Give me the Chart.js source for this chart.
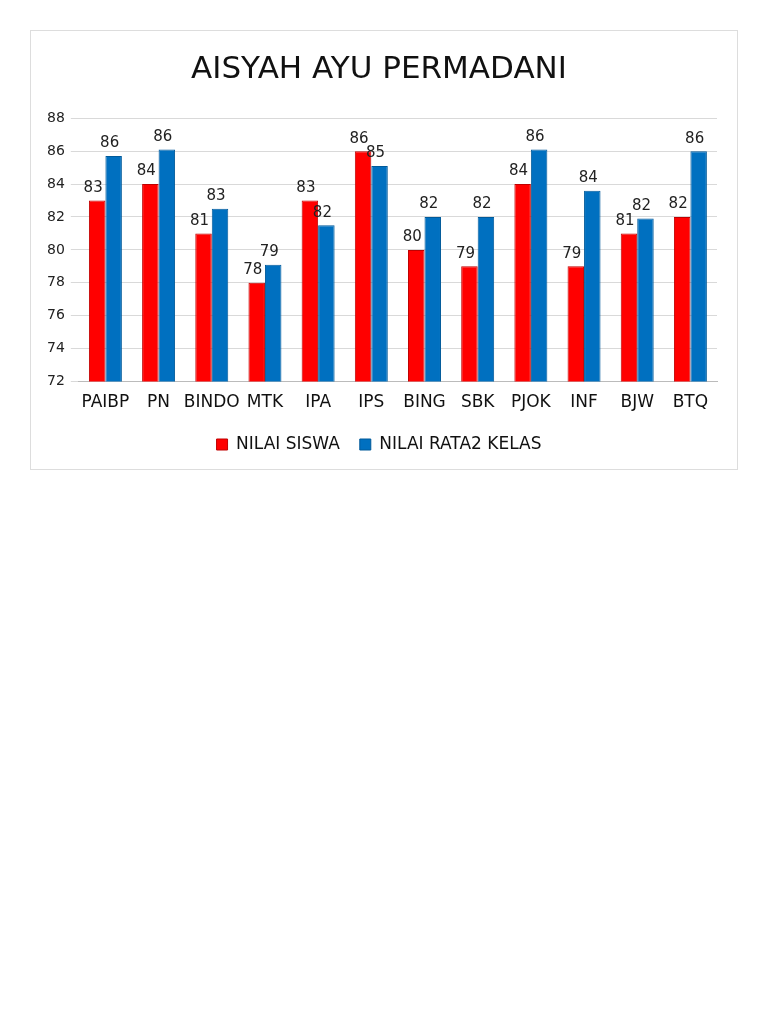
<!DOCTYPE html>
<html><head><meta charset="utf-8">
<script src="https://cdn.jsdelivr.net/npm/chart.js@4/dist/chart.umd.min.js"></script>
<style>
body{margin:0;background:#fff;font-family:"DejaVu Sans",sans-serif;}
#box{position:absolute;left:30px;top:30px;width:708px;height:440px;border:1px solid #ddd;box-sizing:border-box;}
</style></head><body>
<div id="box"><canvas id="c"></canvas></div>
<script>
const categories=["PAIBP","PN","BINDO","MTK","IPA","IPS","BING","SBK","PJOK","INF","BJW","BTQ"];
const nilaiSiswa=[83,84,81,78,83,86,80,79,84,79,81,82];
const rataKelas=[85.7,86.1,82.5,79.1,81.5,85.1,82,82,86.1,83.6,81.9,86];
const yTicks=[72,74,76,78,80,82,84,86,88];

const labelPlugin={id:'lbl',afterDatasetsDraw(chart){
  const ctx=chart.ctx;ctx.save();ctx.font='15px "DejaVu Sans"';ctx.fillStyle='#222';ctx.textAlign='center';ctx.textBaseline='bottom';
  chart.data.datasets.forEach((ds,i)=>{chart.getDatasetMeta(i).data.forEach((b,j)=>{
    ctx.fillText(Math.round(ds.data[j]),b.x-(i===0?4:4),b.y-5);});});
  ctx.restore();}};

new Chart(document.getElementById('c'),{type:'bar',
data:{labels:categories,datasets:[
 {label:'NILAI SISWA',data:nilaiSiswa,backgroundColor:'#ff0000',borderColor:'#c00000',borderWidth:1},
 {label:'NILAI RATA2 KELAS',data:rataKelas,backgroundColor:'#0070c0',borderColor:'#005a9a',borderWidth:1}]},
options:{responsive:true,maintainAspectRatio:false,animation:false,
 layout:{padding:{left:10,right:20,top:0,bottom:6}},
 datasets:{bar:{categoryPercentage:0.62,barPercentage:1}},
 plugins:{title:{display:true,text:'AISYAH AYU PERMADANI',font:{size:31,family:'"DejaVu Sans"',weight:'normal'},color:'#111',padding:{top:20,bottom:30}},
  legend:{position:'bottom',labels:{boxWidth:11,boxHeight:11,font:{size:17,family:'"DejaVu Sans"'},color:'#111',padding:20}},
  tooltip:{enabled:false}},
 scales:{
  x:{grid:{display:false},border:{color:'#bbb'},ticks:{color:'#111',font:{size:17,family:'"DejaVu Sans"'},autoSkip:false,maxRotation:0}},
  y:{min:72,max:88,afterBuildTicks(a){a.ticks=yTicks.map(v=>({value:v}));},
     grid:{color:'#d9d9d9'},border:{display:false},ticks:{color:'#222',font:{size:14,family:'"DejaVu Sans"'},padding:6}}}},
plugins:[labelPlugin]});
</script></body></html>
